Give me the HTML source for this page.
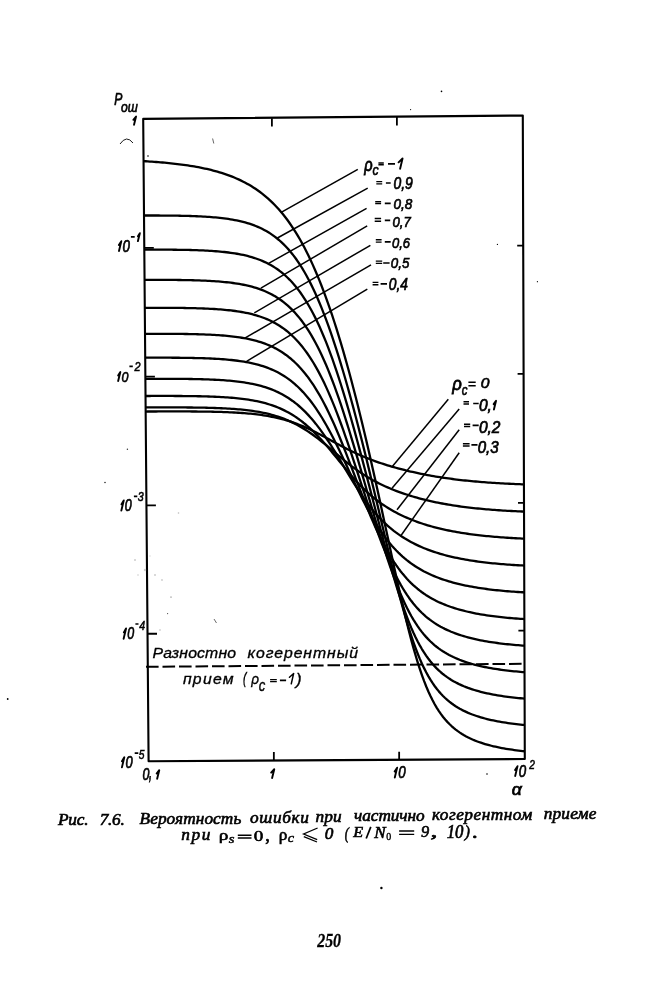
<!DOCTYPE html>
<html><head><meta charset="utf-8"><style>
html,body{margin:0;padding:0;background:#fff;width:657px;height:1000px;overflow:hidden}
svg{position:absolute;left:0;top:0;will-change:transform}
</style></head><body>
<svg width="657" height="1000" viewBox="0 0 657 1000">
<path d="M143.2,118.9 L522.8,115.5 L524.8,759.0 L148.6,761.3 Z" fill="none" stroke="#000" stroke-width="2.1" stroke-linejoin="round"/>
<path d="M144.3,247.85 h9.5 M145.4,376.65 h9.5 M146.4,505.35 h9.5 M147.5,633.75 h9.5 M523.2,245.7 h-6 M523.6,373.9 h-6 M524.0,502.9 h-6 M524.4,630.6 h-6 M271.9,118.3 V126.5 M396.9,116.8 V125.6 M273.85,760.5 V752 M399.15,760 V751.8" fill="none" stroke="#000" stroke-width="1.8"/>
<path d="M120,144 Q126.5,134.5 133,143" fill="none" stroke="#000" stroke-width="0.9"/>
<path d="M212.6,138.5 L213.8,143.5" fill="none" stroke="#555" stroke-width="0.9"/>
<circle cx="148" cy="156" r="0.8" fill="#000"/>
<circle cx="381.4" cy="888" r="1.2" fill="#000"/>
<circle cx="7.7" cy="699" r="0.9" fill="#000"/>
<circle cx="105" cy="482.5" r="0.7" fill="#000"/>
<circle cx="410.6" cy="109.6" r="0.6" fill="#000"/>
<circle cx="441.5" cy="91.4" r="0.8" fill="#000"/>
<circle cx="497.4" cy="244.4" r="0.6" fill="#000"/>
<circle cx="537.4" cy="281.7" r="0.6" fill="#000"/>
<circle cx="487" cy="774" r="0.8" fill="#000"/>
<polyline points="145.66,411.53 147.76,411.52 149.86,411.51 151.96,411.50 154.06,411.49 156.16,411.48 158.26,411.47 160.36,411.46 162.46,411.46 164.56,411.45 166.66,411.45 168.76,411.44 170.86,411.44 172.96,411.44 175.06,411.44 177.17,411.44 179.27,411.44 181.37,411.44 183.47,411.44 185.57,411.45 187.67,411.46 189.77,411.47 191.87,411.48 193.97,411.49 196.07,411.51 198.17,411.53 200.27,411.55 202.37,411.57 204.47,411.60 206.57,411.63 208.67,411.66 210.77,411.70 212.87,411.75 214.98,411.79 217.08,411.84 219.18,411.90 221.28,411.96 223.38,412.03 225.48,412.11 227.58,412.19 229.68,412.28 231.78,412.38 233.88,412.48 235.98,412.60 238.09,412.73 240.19,412.86 242.29,413.01 244.39,413.17 246.49,413.34 248.59,413.53 250.69,413.73 252.80,413.94 254.90,414.17 257.00,414.42 259.10,414.69 261.20,414.98 263.31,415.29 265.41,415.62 267.51,415.97 269.62,416.34 271.72,416.75 273.82,417.17 275.92,417.63 278.03,418.11 280.13,418.63 282.23,419.17 284.34,419.74 286.44,420.35 288.55,420.99 290.65,421.67 292.76,422.37 294.86,423.12 296.97,423.89 299.07,424.70 301.18,425.55 303.28,426.43 305.39,427.34 307.49,428.29 309.60,429.26 311.70,430.26 313.81,431.30 315.92,432.35 318.02,433.43 320.13,434.53 322.23,435.65 324.34,436.78 326.45,437.92 328.55,439.07 330.66,440.22 332.77,441.37 334.87,442.52 336.98,443.66 339.08,444.79 341.19,445.92 343.30,447.03 345.40,448.12 347.51,449.20 349.61,450.25 351.72,451.28 353.82,452.29 355.93,453.28 358.03,454.24 360.13,455.17 362.24,456.09 364.34,456.97 366.45,457.83 368.55,458.67 370.65,459.49 372.76,460.28 374.86,461.05 376.96,461.81 379.06,462.54 381.17,463.25 383.27,463.94 385.37,464.62 387.47,465.28 389.57,465.92 391.68,466.54 393.78,467.15 395.88,467.75 397.98,468.33 400.08,468.89 402.18,469.44 404.29,469.98 406.39,470.50 408.49,471.01 410.59,471.51 412.69,471.99 414.79,472.46 416.89,472.92 418.99,473.37 421.09,473.80 423.19,474.23 425.29,474.64 427.39,475.03 429.49,475.42 431.59,475.80 433.69,476.17 435.79,476.52 437.89,476.87 439.99,477.20 442.09,477.53 444.19,477.84 446.29,478.15 448.39,478.44 450.49,478.73 452.59,479.01 454.69,479.28 456.79,479.54 458.89,479.79 460.99,480.03 463.09,480.27 465.19,480.49 467.29,480.71 469.38,480.93 471.48,481.13 473.58,481.33 475.68,481.52 477.78,481.71 479.88,481.88 481.98,482.05 484.08,482.22 486.18,482.38 488.27,482.53 490.37,482.68 492.47,482.82 494.57,482.96 496.67,483.09 498.77,483.21 500.87,483.33 502.96,483.45 505.06,483.56 507.16,483.67 509.26,483.77 511.36,483.87 513.46,483.96 515.56,484.05 517.65,484.14 519.75,484.22 521.85,484.30 523.95,484.37" fill="none" stroke="#000" stroke-width="2.3" stroke-linejoin="round"/>
<polyline points="145.63,407.46 147.73,407.46 149.83,407.45 151.93,407.44 154.03,407.43 156.13,407.43 158.23,407.42 160.33,407.42 162.43,407.41 164.53,407.41 166.63,407.41 168.73,407.41 170.83,407.41 172.93,407.41 175.03,407.42 177.13,407.42 179.23,407.43 181.33,407.44 183.44,407.45 185.54,407.46 187.64,407.48 189.74,407.49 191.84,407.51 193.94,407.54 196.04,407.56 198.14,407.59 200.24,407.63 202.34,407.66 204.44,407.70 206.54,407.75 208.64,407.80 210.74,407.86 212.85,407.92 214.95,407.99 217.05,408.06 219.15,408.14 221.25,408.23 223.35,408.33 225.45,408.43 227.55,408.55 229.66,408.67 231.76,408.81 233.86,408.95 235.96,409.11 238.06,409.29 240.16,409.47 242.27,409.67 244.37,409.89 246.47,410.13 248.57,410.38 250.67,410.66 252.78,410.95 254.88,411.27 256.98,411.61 259.08,411.97 261.19,412.37 263.29,412.79 265.39,413.24 267.50,413.72 269.60,414.24 271.70,414.79 273.81,415.38 275.91,416.01 278.02,416.68 280.12,417.39 282.23,418.14 284.33,418.94 286.44,419.79 288.54,420.68 290.65,421.63 292.76,422.63 294.86,423.68 296.97,424.78 299.08,425.94 301.19,427.15 303.29,428.41 305.40,429.73 307.51,431.10 309.62,432.52 311.73,433.99 313.84,435.51 315.94,437.08 318.05,438.68 320.16,440.33 322.27,442.01 324.38,443.71 326.49,445.45 328.60,447.20 330.71,448.97 332.82,450.75 334.93,452.54 337.04,454.32 339.15,456.09 341.26,457.86 343.37,459.60 345.48,461.32 347.58,463.01 349.69,464.67 351.80,466.29 353.91,467.87 356.01,469.41 358.12,470.91 360.23,472.36 362.33,473.77 364.44,475.13 366.54,476.44 368.65,477.71 370.75,478.94 372.86,480.13 374.96,481.27 377.07,482.38 379.17,483.44 381.27,484.47 383.38,485.47 385.48,486.44 387.58,487.37 389.69,488.27 391.79,489.14 393.89,489.99 395.99,490.81 398.10,491.60 400.20,492.37 402.30,493.11 404.40,493.83 406.50,494.53 408.60,495.20 410.70,495.86 412.80,496.49 414.90,497.11 417.01,497.70 419.11,498.28 421.21,498.83 423.31,499.37 425.41,499.89 427.51,500.40 429.61,500.89 431.71,501.36 433.81,501.82 435.91,502.26 438.00,502.68 440.10,503.10 442.20,503.50 444.30,503.88 446.40,504.25 448.50,504.61 450.60,504.96 452.70,505.30 454.80,505.62 456.90,505.93 459.00,506.24 461.09,506.53 463.19,506.81 465.29,507.08 467.39,507.34 469.49,507.59 471.59,507.83 473.68,508.07 475.78,508.29 477.88,508.51 479.98,508.71 482.08,508.91 484.18,509.11 486.27,509.29 488.37,509.47 490.47,509.64 492.57,509.80 494.67,509.96 496.76,510.11 498.86,510.26 500.96,510.40 503.06,510.53 505.16,510.66 507.25,510.78 509.35,510.90 511.45,511.01 513.55,511.12 515.64,511.22 517.74,511.32 519.84,511.41 521.94,511.50 524.03,511.58" fill="none" stroke="#000" stroke-width="2.3" stroke-linejoin="round"/>
<polyline points="145.53,395.99 147.63,395.98 149.73,395.98 151.83,395.97 153.93,395.97 156.03,395.96 158.13,395.96 160.24,395.96 162.34,395.95 164.44,395.95 166.54,395.96 168.64,395.96 170.74,395.96 172.84,395.97 174.94,395.98 177.04,395.99 179.14,396.00 181.24,396.01 183.35,396.03 185.45,396.05 187.55,396.07 189.65,396.09 191.75,396.12 193.85,396.15 195.95,396.19 198.05,396.23 200.15,396.27 202.26,396.32 204.36,396.37 206.46,396.43 208.56,396.50 210.66,396.57 212.76,396.64 214.86,396.73 216.96,396.82 219.07,396.92 221.17,397.03 223.27,397.15 225.37,397.29 227.47,397.43 229.58,397.58 231.68,397.75 233.78,397.93 235.88,398.13 237.98,398.34 240.09,398.57 242.19,398.82 244.29,399.09 246.39,399.38 248.50,399.70 250.60,400.04 252.70,400.40 254.81,400.79 256.91,401.21 259.01,401.67 261.12,402.15 263.22,402.67 265.33,403.23 267.43,403.83 269.54,404.48 271.64,405.16 273.75,405.90 275.85,406.68 277.96,407.52 280.06,408.41 282.17,409.36 284.28,410.37 286.39,411.44 288.49,412.57 290.60,413.78 292.71,415.05 294.82,416.40 296.93,417.82 299.04,419.31 301.15,420.88 303.26,422.53 305.37,424.26 307.48,426.06 309.59,427.95 311.70,429.91 313.81,431.95 315.93,434.06 318.04,436.25 320.15,438.50 322.27,440.82 324.38,443.19 326.49,445.62 328.61,448.10 330.72,450.61 332.83,453.16 334.95,455.74 337.06,458.33 339.18,460.94 341.29,463.53 343.40,466.12 345.52,468.69 347.63,471.23 349.74,473.73 351.85,476.19 353.97,478.59 356.08,480.94 358.19,483.22 360.30,485.43 362.41,487.57 364.52,489.63 366.63,491.63 368.73,493.54 370.84,495.39 372.95,497.16 375.06,498.86 377.16,500.50 379.27,502.06 381.37,503.57 383.48,505.02 385.58,506.40 387.69,507.74 389.79,509.02 391.89,510.25 394.00,511.43 396.10,512.57 398.20,513.67 400.31,514.72 402.41,515.73 404.51,516.70 406.61,517.64 408.71,518.54 410.81,519.41 412.92,520.24 415.02,521.05 417.12,521.82 419.22,522.57 421.32,523.28 423.42,523.97 425.52,524.64 427.62,525.28 429.72,525.89 431.82,526.49 433.92,527.06 436.02,527.61 438.11,528.13 440.21,528.64 442.31,529.13 444.41,529.61 446.51,530.06 448.61,530.50 450.71,530.92 452.81,531.32 454.90,531.71 457.00,532.08 459.10,532.44 461.20,532.79 463.30,533.12 465.40,533.44 467.49,533.75 469.59,534.04 471.69,534.33 473.79,534.60 475.88,534.86 477.98,535.12 480.08,535.36 482.18,535.59 484.27,535.81 486.37,536.03 488.47,536.23 490.57,536.43 492.66,536.62 494.76,536.80 496.86,536.97 498.96,537.14 501.05,537.30 503.15,537.45 505.25,537.60 507.34,537.73 509.44,537.87 511.54,538.00 513.63,538.12 515.73,538.23 517.83,538.35 519.93,538.45 522.02,538.55 524.12,538.65" fill="none" stroke="#000" stroke-width="2.3" stroke-linejoin="round"/>
<polyline points="145.38,378.83 147.49,378.83 149.59,378.82 151.69,378.82 153.79,378.81 155.89,378.81 157.99,378.81 160.09,378.81 162.20,378.81 164.30,378.81 166.40,378.81 168.50,378.82 170.60,378.83 172.70,378.83 174.80,378.84 176.91,378.86 179.01,378.87 181.11,378.89 183.21,378.91 185.31,378.93 187.41,378.96 189.52,378.99 191.62,379.02 193.72,379.06 195.82,379.10 197.92,379.15 200.02,379.20 202.13,379.26 204.23,379.32 206.33,379.39 208.43,379.46 210.53,379.54 212.63,379.63 214.74,379.73 216.84,379.84 218.94,379.96 221.04,380.08 223.15,380.22 225.25,380.37 227.35,380.54 229.45,380.71 231.56,380.91 233.66,381.12 235.76,381.34 237.86,381.59 239.97,381.85 242.07,382.14 244.17,382.44 246.28,382.78 248.38,383.14 250.49,383.52 252.59,383.94 254.69,384.39 256.80,384.87 258.90,385.39 261.01,385.95 263.11,386.55 265.22,387.19 267.32,387.88 269.43,388.63 271.54,389.42 273.64,390.27 275.75,391.17 277.86,392.14 279.97,393.18 282.07,394.28 284.18,395.46 286.29,396.71 288.40,398.04 290.51,399.45 292.62,400.95 294.73,402.54 296.84,404.22 298.95,406.00 301.07,407.87 303.18,409.85 305.29,411.92 307.41,414.11 309.52,416.39 311.63,418.79 313.75,421.29 315.87,423.90 317.98,426.62 320.10,429.43 322.22,432.36 324.33,435.37 326.45,438.49 328.57,441.67 330.69,444.94 332.81,448.29 334.93,451.69 337.04,455.15 339.16,458.66 341.28,462.19 343.40,465.74 345.52,469.30 347.64,472.84 349.76,476.36 351.87,479.85 353.99,483.29 356.11,486.66 358.22,489.96 360.34,493.18 362.45,496.31 364.57,499.34 366.68,502.27 368.79,505.09 370.91,507.81 373.02,510.42 375.13,512.92 377.24,515.31 379.35,517.60 381.46,519.80 383.56,521.89 385.67,523.89 387.78,525.81 389.88,527.64 391.99,529.38 394.09,531.05 396.20,532.65 398.30,534.17 400.41,535.62 402.51,537.01 404.61,538.34 406.72,539.61 408.82,540.82 410.92,541.98 413.02,543.09 415.12,544.15 417.22,545.16 419.33,546.13 421.43,547.06 423.53,547.95 425.63,548.80 427.73,549.61 429.83,550.39 431.93,551.14 434.03,551.85 436.12,552.53 438.22,553.19 440.32,553.82 442.42,554.42 444.52,554.99 446.62,555.55 448.72,556.07 450.81,556.58 452.91,557.07 455.01,557.53 457.11,557.98 459.21,558.41 461.30,558.82 463.40,559.21 465.50,559.59 467.60,559.95 469.69,560.30 471.79,560.63 473.89,560.95 475.98,561.25 478.08,561.55 480.18,561.83 482.28,562.09 484.37,562.35 486.47,562.60 488.57,562.83 490.66,563.06 492.76,563.27 494.86,563.48 496.95,563.68 499.05,563.87 501.14,564.05 503.24,564.22 505.34,564.39 507.43,564.55 509.53,564.70 511.63,564.84 513.72,564.98 515.82,565.11 517.91,565.24 520.01,565.36 522.11,565.47 524.20,565.58" fill="none" stroke="#000" stroke-width="2.3" stroke-linejoin="round"/>
<polyline points="145.21,357.71 147.31,357.70 149.41,357.70 151.51,357.70 153.62,357.69 155.72,357.69 157.82,357.69 159.92,357.69 162.02,357.69 164.13,357.70 166.23,357.70 168.33,357.71 170.43,357.72 172.53,357.73 174.64,357.74 176.74,357.75 178.84,357.77 180.94,357.79 183.04,357.82 185.15,357.84 187.25,357.87 189.35,357.91 191.45,357.94 193.56,357.98 195.66,358.03 197.76,358.08 199.86,358.14 201.96,358.20 204.07,358.27 206.17,358.35 208.27,358.43 210.38,358.52 212.48,358.62 214.58,358.73 216.68,358.84 218.79,358.97 220.89,359.11 222.99,359.26 225.10,359.43 227.20,359.61 229.30,359.80 231.41,360.01 233.51,360.24 235.61,360.49 237.72,360.75 239.82,361.04 241.92,361.36 244.03,361.69 246.13,362.06 248.24,362.45 250.34,362.87 252.45,363.33 254.55,363.82 256.66,364.35 258.76,364.92 260.87,365.53 262.98,366.19 265.08,366.90 267.19,367.65 269.30,368.47 271.40,369.34 273.51,370.27 275.62,371.27 277.73,372.34 279.84,373.49 281.95,374.71 284.06,376.01 286.17,377.40 288.28,378.87 290.39,380.45 292.50,382.12 294.61,383.89 296.73,385.77 298.84,387.77 300.95,389.88 303.07,392.10 305.18,394.46 307.30,396.93 309.42,399.54 311.53,402.28 313.65,405.15 315.77,408.16 317.89,411.31 320.01,414.59 322.13,418.01 324.25,421.57 326.37,425.25 328.50,429.07 330.62,433.01 332.74,437.06 334.86,441.21 336.99,445.46 339.11,449.80 341.24,454.22 343.36,458.70 345.49,463.23 347.61,467.79 349.73,472.37 351.86,476.94 353.98,481.49 356.10,486.01 358.23,490.46 360.35,494.85 362.47,499.14 364.59,503.33 366.71,507.42 368.83,511.37 370.95,515.20 373.06,518.89 375.18,522.45 377.29,525.86 379.41,529.13 381.52,532.26 383.63,535.26 385.74,538.11 387.85,540.84 389.96,543.43 392.07,545.91 394.18,548.26 396.29,550.50 398.39,552.62 400.50,554.64 402.60,556.56 404.71,558.39 406.81,560.12 408.92,561.76 411.02,563.32 413.12,564.81 415.23,566.21 417.33,567.55 419.43,568.82 421.53,570.03 423.63,571.18 425.73,572.27 427.83,573.31 429.93,574.30 432.03,575.24 434.13,576.14 436.23,576.99 438.33,577.80 440.43,578.58 442.53,579.32 444.63,580.02 446.72,580.70 448.82,581.34 450.92,581.95 453.02,582.53 455.11,583.09 457.21,583.62 459.31,584.13 461.41,584.62 463.50,585.08 465.60,585.53 467.70,585.95 469.79,586.36 471.89,586.74 473.99,587.11 476.08,587.47 478.18,587.80 480.28,588.13 482.37,588.44 484.47,588.73 486.57,589.01 488.66,589.28 490.76,589.54 492.85,589.79 494.95,590.02 497.05,590.25 499.14,590.46 501.24,590.67 503.33,590.86 505.43,591.05 507.52,591.23 509.62,591.40 511.71,591.56 513.81,591.72 515.91,591.86 518.00,592.00 520.10,592.14 522.19,592.27 524.29,592.39" fill="none" stroke="#000" stroke-width="2.3" stroke-linejoin="round"/>
<polyline points="145.01,333.83 147.11,333.82 149.21,333.82 151.31,333.81 153.42,333.81 155.52,333.81 157.62,333.81 159.73,333.81 161.83,333.81 163.93,333.82 166.03,333.82 168.14,333.83 170.24,333.84 172.34,333.85 174.44,333.87 176.55,333.89 178.65,333.91 180.75,333.93 182.86,333.95 184.96,333.98 187.06,334.01 189.17,334.05 191.27,334.09 193.37,334.14 195.47,334.19 197.58,334.24 199.68,334.30 201.78,334.37 203.89,334.44 205.99,334.53 208.09,334.61 210.20,334.71 212.30,334.82 214.40,334.93 216.51,335.06 218.61,335.20 220.71,335.35 222.82,335.51 224.92,335.68 227.03,335.88 229.13,336.08 231.23,336.31 233.34,336.55 235.44,336.82 237.55,337.10 239.65,337.41 241.76,337.74 243.86,338.10 245.97,338.49 248.07,338.91 250.18,339.36 252.29,339.85 254.39,340.38 256.50,340.94 258.60,341.55 260.71,342.21 262.82,342.91 264.93,343.67 267.03,344.48 269.14,345.35 271.25,346.29 273.36,347.29 275.47,348.36 277.58,349.51 279.69,350.74 281.80,352.05 283.91,353.45 286.02,354.95 288.13,356.54 290.25,358.24 292.36,360.05 294.47,361.97 296.59,364.01 298.70,366.17 300.82,368.47 302.94,370.90 305.05,373.46 307.17,376.18 309.29,379.04 311.41,382.05 313.53,385.22 315.65,388.54 317.77,392.03 319.90,395.69 322.02,399.50 324.14,403.49 326.27,407.64 328.40,411.95 330.52,416.42 332.65,421.05 334.78,425.83 336.90,430.76 339.03,435.81 341.16,440.97 343.29,446.25 345.42,451.62 347.55,457.07 349.68,462.59 351.81,468.16 353.94,473.75 356.07,479.34 358.20,484.92 360.33,490.46 362.45,495.95 364.58,501.35 366.71,506.67 368.83,511.87 370.95,516.95 373.08,521.89 375.20,526.68 377.32,531.32 379.44,535.79 381.56,540.10 383.68,544.23 385.79,548.20 387.91,551.99 390.02,555.60 392.14,559.05 394.25,562.33 396.36,565.45 398.47,568.40 400.58,571.20 402.69,573.86 404.80,576.36 406.90,578.73 409.01,580.97 411.11,583.09 413.22,585.08 415.32,586.97 417.43,588.74 419.53,590.42 421.63,592.01 423.73,593.50 425.83,594.92 427.94,596.25 430.04,597.52 432.14,598.71 434.24,599.84 436.34,600.91 438.43,601.93 440.53,602.89 442.63,603.80 444.73,604.66 446.83,605.48 448.93,606.26 451.02,607.00 453.12,607.70 455.22,608.37 457.32,609.01 459.41,609.61 461.51,610.18 463.61,610.73 465.70,611.25 467.80,611.75 469.90,612.22 471.99,612.67 474.09,613.10 476.18,613.51 478.28,613.90 480.37,614.27 482.47,614.62 484.57,614.96 486.66,615.28 488.76,615.59 490.85,615.88 492.95,616.16 495.04,616.43 497.14,616.68 499.23,616.93 501.33,617.16 503.42,617.38 505.52,617.59 507.61,617.79 509.71,617.98 511.80,618.16 513.90,618.34 515.99,618.50 518.09,618.66 520.18,618.81 522.28,618.95 524.37,619.09" fill="none" stroke="#000" stroke-width="2.3" stroke-linejoin="round"/>
<polyline points="144.79,307.83 146.89,307.82 148.99,307.82 151.10,307.82 153.20,307.81 155.31,307.81 157.41,307.81 159.51,307.82 161.62,307.82 163.72,307.83 165.82,307.83 167.93,307.84 170.03,307.85 172.13,307.87 174.24,307.88 176.34,307.90 178.44,307.92 180.55,307.95 182.65,307.97 184.76,308.00 186.86,308.04 188.96,308.08 191.07,308.12 193.17,308.17 195.27,308.22 197.38,308.28 199.48,308.35 201.59,308.42 203.69,308.50 205.79,308.59 207.90,308.68 210.00,308.78 212.11,308.90 214.21,309.02 216.32,309.15 218.42,309.30 220.52,309.46 222.63,309.63 224.73,309.82 226.84,310.02 228.94,310.24 231.05,310.48 233.15,310.74 235.26,311.01 237.36,311.32 239.47,311.64 241.58,312.00 243.68,312.38 245.79,312.79 247.89,313.24 250.00,313.71 252.11,314.23 254.22,314.79 256.32,315.39 258.43,316.03 260.54,316.73 262.65,317.47 264.75,318.28 266.86,319.14 268.97,320.06 271.08,321.06 273.19,322.12 275.30,323.26 277.41,324.48 279.53,325.79 281.64,327.19 283.75,328.68 285.86,330.27 287.98,331.97 290.09,333.78 292.21,335.71 294.32,337.77 296.44,339.95 298.55,342.27 300.67,344.72 302.79,347.33 304.91,350.09 307.03,353.00 309.15,356.08 311.27,359.33 313.40,362.75 315.52,366.35 317.64,370.13 319.77,374.10 321.89,378.25 324.02,382.59 326.15,387.12 328.28,391.85 330.41,396.76 332.54,401.86 334.67,407.14 336.80,412.60 338.93,418.23 341.07,424.02 343.20,429.96 345.33,436.04 347.47,442.20 349.60,448.49 351.74,454.87 353.87,461.32 356.01,467.83 358.14,474.37 360.27,480.92 362.41,487.46 364.54,493.97 366.67,500.43 368.80,506.82 370.93,513.12 373.06,519.32 375.19,525.39 377.32,531.33 379.45,537.11 381.57,542.73 383.70,548.18 385.82,553.44 387.94,558.51 390.06,563.38 392.18,568.05 394.30,572.51 396.42,576.76 398.53,580.79 400.64,584.63 402.76,588.25 404.87,591.68 406.98,594.91 409.09,597.95 411.20,600.82 413.30,603.51 415.41,606.04 417.52,608.41 419.62,610.64 421.73,612.73 423.83,614.70 425.93,616.54 428.03,618.27 430.14,619.89 432.24,621.42 434.34,622.85 436.44,624.20 438.54,625.47 440.64,626.67 442.73,627.80 444.83,628.86 446.93,629.86 449.03,630.81 451.13,631.71 453.22,632.55 455.32,633.35 457.42,634.11 459.51,634.83 461.61,635.51 463.71,636.15 465.80,636.76 467.90,637.34 469.99,637.89 472.09,638.42 474.19,638.91 476.28,639.38 478.38,639.83 480.47,640.26 482.57,640.66 484.66,641.05 486.76,641.42 488.85,641.77 490.95,642.10 493.04,642.41 495.14,642.72 497.23,643.00 499.32,643.27 501.42,643.53 503.51,643.78 505.61,644.02 507.70,644.24 509.80,644.45 511.89,644.66 513.98,644.85 516.08,645.03 518.17,645.21 520.27,645.38 522.36,645.53 524.45,645.68" fill="none" stroke="#000" stroke-width="2.3" stroke-linejoin="round"/>
<polyline points="144.55,279.88 146.66,279.88 148.76,279.88 150.87,279.87 152.97,279.87 155.07,279.87 157.18,279.87 159.28,279.88 161.39,279.88 163.49,279.89 165.60,279.90 167.70,279.91 169.81,279.92 171.91,279.94 174.01,279.95 176.12,279.97 178.22,280.00 180.33,280.02 182.43,280.05 184.54,280.09 186.64,280.13 188.75,280.17 190.85,280.21 192.95,280.27 195.06,280.32 197.16,280.39 199.27,280.46 201.37,280.54 203.48,280.62 205.58,280.71 207.69,280.81 209.79,280.92 211.90,281.04 214.00,281.17 216.11,281.32 218.21,281.47 220.32,281.64 222.43,281.83 224.53,282.03 226.64,282.24 228.74,282.48 230.85,282.73 232.96,283.00 235.06,283.30 237.17,283.62 239.27,283.97 241.38,284.35 243.49,284.75 245.60,285.19 247.70,285.67 249.81,286.18 251.92,286.73 254.03,287.32 256.14,287.96 258.24,288.65 260.35,289.39 262.46,290.18 264.57,291.04 266.68,291.95 268.79,292.94 270.90,294.00 273.01,295.13 275.13,296.35 277.24,297.65 279.35,299.04 281.46,300.53 283.58,302.13 285.69,303.83 287.81,305.64 289.92,307.58 292.04,309.64 294.16,311.84 296.28,314.17 298.39,316.65 300.51,319.28 302.63,322.07 304.76,325.03 306.88,328.15 309.00,331.46 311.12,334.94 313.25,338.61 315.38,342.48 317.50,346.54 319.63,350.80 321.76,355.27 323.89,359.95 326.02,364.83 328.15,369.93 330.28,375.23 332.42,380.73 334.55,386.44 336.68,392.35 338.82,398.45 340.96,404.74 343.09,411.20 345.23,417.82 347.37,424.60 349.51,431.51 351.65,438.55 353.78,445.64 355.92,452.85 358.06,460.14 360.20,467.49 362.34,474.87 364.48,482.28 366.62,489.70 368.75,497.09 370.89,504.46 373.02,511.77 375.16,519.02 377.29,526.18 379.43,533.23 381.56,540.16 383.69,546.95 385.82,553.58 387.95,560.03 390.08,566.29 392.20,572.34 394.33,578.16 396.45,583.76 398.57,589.11 400.69,594.22 402.81,599.07 404.93,603.67 407.04,608.02 409.16,612.11 411.27,615.97 413.38,619.58 415.49,622.97 417.60,626.15 419.71,629.11 421.81,631.88 423.92,634.47 426.02,636.88 428.13,639.13 430.23,641.23 432.33,643.19 434.43,645.02 436.53,646.74 438.63,648.34 440.73,649.83 442.83,651.24 444.93,652.55 447.03,653.78 449.13,654.94 451.23,656.03 453.32,657.05 455.42,658.01 457.52,658.92 459.61,659.77 461.71,660.57 463.81,661.33 465.90,662.05 468.00,662.73 470.09,663.37 472.19,663.98 474.28,664.55 476.38,665.09 478.47,665.61 480.57,666.10 482.66,666.56 484.76,667.00 486.85,667.42 488.95,667.81 491.04,668.19 493.13,668.55 495.23,668.88 497.32,669.21 499.42,669.51 501.51,669.80 503.60,670.08 505.70,670.34 507.79,670.59 509.88,670.83 511.98,671.05 514.07,671.27 516.16,671.47 518.26,671.67 520.35,671.85 522.44,672.03 524.54,672.19" fill="none" stroke="#000" stroke-width="2.3" stroke-linejoin="round"/>
<polyline points="144.30,249.63 146.40,249.63 148.51,249.63 150.61,249.63 152.72,249.63 154.82,249.63 156.93,249.63 159.04,249.63 161.14,249.64 163.25,249.65 165.35,249.66 167.46,249.67 169.56,249.69 171.67,249.70 173.77,249.73 175.88,249.75 177.98,249.78 180.09,249.81 182.19,249.84 184.30,249.88 186.40,249.92 188.51,249.97 190.62,250.02 192.72,250.08 194.83,250.14 196.93,250.21 199.04,250.29 201.14,250.37 203.25,250.47 205.36,250.57 207.46,250.68 209.57,250.80 211.67,250.93 213.78,251.08 215.89,251.23 217.99,251.40 220.10,251.59 222.21,251.79 224.31,252.01 226.42,252.24 228.53,252.50 230.63,252.78 232.74,253.08 234.85,253.40 236.96,253.75 239.06,254.13 241.17,254.54 243.28,254.98 245.39,255.46 247.50,255.98 249.61,256.53 251.71,257.13 253.82,257.78 255.93,258.47 258.04,259.22 260.15,260.03 262.26,260.89 264.38,261.83 266.49,262.82 268.60,263.90 270.71,265.05 272.82,266.28 274.94,267.61 277.05,269.02 279.17,270.54 281.28,272.16 283.40,273.89 285.51,275.74 287.63,277.72 289.75,279.82 291.87,282.06 293.98,284.45 296.10,286.98 298.23,289.67 300.35,292.53 302.47,295.55 304.59,298.76 306.72,302.14 308.84,305.72 310.97,309.48 313.10,313.45 315.23,317.63 317.35,322.01 319.49,326.60 321.62,331.41 323.75,336.43 325.88,341.67 328.02,347.13 330.15,352.80 332.29,358.68 334.42,364.77 336.56,371.07 338.70,377.56 340.84,384.25 342.98,391.12 345.12,398.16 347.26,405.36 349.40,412.72 351.54,420.23 353.69,427.86 355.83,435.62 357.97,443.43 360.11,451.35 362.26,459.36 364.40,467.45 366.54,475.59 368.68,483.78 370.82,492.00 372.96,500.23 375.11,508.46 377.25,516.66 379.38,524.83 381.52,532.93 383.66,540.96 385.80,548.87 387.93,556.67 390.07,564.31 392.20,571.78 394.33,579.05 396.46,586.10 398.59,592.91 400.72,599.46 402.84,605.74 404.97,611.74 407.09,617.44 409.21,622.84 411.32,627.93 413.44,632.73 415.56,637.22 417.67,641.43 419.78,645.36 421.89,649.02 424.00,652.43 426.11,655.60 428.21,658.54 430.32,661.27 432.42,663.80 434.53,666.16 436.63,668.34 438.73,670.37 440.83,672.25 442.93,674.01 445.03,675.64 447.13,677.16 449.23,678.58 451.33,679.91 453.42,681.15 455.52,682.31 457.62,683.39 459.71,684.41 461.81,685.36 463.91,686.26 466.00,687.10 468.10,687.90 470.19,688.64 472.29,689.35 474.38,690.01 476.48,690.64 478.57,691.23 480.66,691.79 482.76,692.32 484.85,692.82 486.95,693.29 489.04,693.74 491.13,694.16 493.23,694.56 495.32,694.94 497.41,695.30 499.51,695.65 501.60,695.97 503.69,696.28 505.79,696.57 507.88,696.85 509.97,697.11 512.06,697.36 514.16,697.60 516.25,697.82 518.34,698.04 520.43,698.24 522.53,698.43 524.62,698.62" fill="none" stroke="#000" stroke-width="2.3" stroke-linejoin="round"/>
<polyline points="144.01,215.50 146.12,215.49 148.22,215.49 150.33,215.50 152.44,215.50 154.54,215.50 156.65,215.51 158.76,215.52 160.86,215.53 162.97,215.54 165.07,215.56 167.18,215.57 169.29,215.59 171.39,215.62 173.50,215.64 175.61,215.67 177.71,215.71 179.82,215.75 181.93,215.79 184.03,215.84 186.14,215.89 188.25,215.95 190.35,216.01 192.46,216.08 194.57,216.16 196.67,216.24 198.78,216.34 200.89,216.44 202.99,216.55 205.10,216.67 207.21,216.81 209.31,216.95 211.42,217.11 213.53,217.28 215.64,217.47 217.74,217.67 219.85,217.89 221.96,218.13 224.07,218.39 226.18,218.67 228.28,218.97 230.39,219.30 232.50,219.65 234.61,220.03 236.72,220.45 238.83,220.90 240.94,221.38 243.05,221.90 245.16,222.46 247.27,223.07 249.38,223.72 251.49,224.42 253.60,225.18 255.71,225.99 257.82,226.86 259.93,227.80 262.05,228.81 264.16,229.90 266.27,231.06 268.39,232.31 270.50,233.64 272.62,235.08 274.73,236.61 276.85,238.24 278.97,239.99 281.08,241.86 283.20,243.85 285.32,245.97 287.44,248.23 289.56,250.63 291.68,253.19 293.80,255.89 295.93,258.76 298.05,261.80 300.18,265.01 302.30,268.40 304.43,271.98 306.56,275.74 308.68,279.70 310.81,283.86 312.94,288.21 315.08,292.77 317.21,297.53 319.34,302.50 321.48,307.68 323.61,313.06 325.75,318.65 327.88,324.44 330.02,330.44 332.16,336.63 334.30,343.02 336.44,349.60 338.58,356.37 340.72,363.33 342.86,370.47 345.01,377.78 347.15,385.26 349.29,392.90 351.44,400.71 353.58,408.66 355.73,416.77 357.87,425.01 360.02,433.38 362.16,441.83 364.31,450.39 366.45,459.07 368.60,467.86 370.74,476.73 372.89,485.67 375.03,494.68 377.18,503.73 379.32,512.81 381.47,521.90 383.61,530.98 385.75,540.02 387.89,549.01 390.03,557.91 392.17,566.70 394.31,575.35 396.45,583.84 398.59,592.12 400.72,600.18 402.85,607.98 404.98,615.50 407.11,622.72 409.24,629.61 411.36,636.17 413.49,642.38 415.61,648.23 417.73,653.73 419.84,658.88 421.96,663.68 424.07,668.14 426.18,672.29 428.29,676.13 430.40,679.68 432.51,682.96 434.61,685.99 436.72,688.79 438.82,691.38 440.92,693.77 443.02,695.97 445.13,698.01 447.23,699.90 449.32,701.65 451.42,703.28 453.52,704.79 455.62,706.19 457.72,707.49 459.81,708.71 461.91,709.85 464.00,710.91 466.10,711.90 468.19,712.83 470.29,713.70 472.38,714.52 474.48,715.29 476.57,716.01 478.67,716.69 480.76,717.33 482.85,717.93 484.95,718.50 487.04,719.03 489.13,719.54 491.23,720.02 493.32,720.47 495.41,720.89 497.50,721.30 499.60,721.68 501.69,722.04 503.78,722.38 505.87,722.71 507.97,723.02 510.06,723.31 512.15,723.58 514.24,723.85 516.33,724.10 518.43,724.33 520.52,724.55 522.61,724.77 524.70,724.97" fill="none" stroke="#000" stroke-width="2.3" stroke-linejoin="round"/>
<polyline points="143.56,161.13 145.66,161.26 147.77,161.39 149.88,161.53 151.99,161.67 154.10,161.82 156.21,161.98 158.32,162.14 160.43,162.31 162.54,162.49 164.65,162.68 166.75,162.88 168.86,163.09 170.97,163.31 173.08,163.53 175.19,163.77 177.30,164.02 179.41,164.28 181.52,164.55 183.63,164.83 185.74,165.13 187.85,165.44 189.96,165.77 192.07,166.11 194.18,166.46 196.29,166.84 198.40,167.23 200.51,167.64 202.63,168.06 204.74,168.51 206.85,168.98 208.96,169.47 211.07,169.99 213.18,170.53 215.29,171.09 217.41,171.68 219.52,172.30 221.63,172.95 223.74,173.63 225.85,174.34 227.97,175.08 230.08,175.87 232.19,176.69 234.31,177.54 236.42,178.44 238.53,179.39 240.65,180.38 242.76,181.42 244.88,182.51 246.99,183.65 249.11,184.85 251.22,186.10 253.34,187.42 255.46,188.81 257.57,190.26 259.69,191.78 261.81,193.38 263.93,195.05 266.04,196.81 268.16,198.65 270.28,200.59 272.40,202.61 274.52,204.74 276.64,206.96 278.77,209.30 280.89,211.74 283.01,214.30 285.13,216.99 287.26,219.79 289.38,222.73 291.51,225.80 293.63,229.01 295.76,232.36 297.89,235.86 300.02,239.52 302.15,243.33 304.28,247.30 306.41,251.43 308.54,255.74 310.67,260.21 312.80,264.87 314.94,269.70 317.07,274.71 319.21,279.90 321.34,285.28 323.48,290.84 325.62,296.60 327.76,302.54 329.90,308.67 332.04,314.99 334.18,321.50 336.32,328.20 338.46,335.09 340.60,342.17 342.75,349.43 344.89,356.87 347.03,364.50 349.18,372.31 351.32,380.30 353.47,388.46 355.62,396.80 357.76,405.30 359.91,413.97 362.06,422.79 364.21,431.78 366.35,440.86 368.50,450.07 370.65,459.44 372.80,468.93 374.95,478.55 377.10,488.26 379.25,498.07 381.40,507.95 383.54,517.89 385.69,527.87 387.84,537.86 389.98,547.84 392.13,557.79 394.28,567.67 396.42,577.45 398.56,587.10 400.70,596.59 402.84,605.88 404.98,614.94 407.12,623.72 409.25,632.20 411.38,640.35 413.51,648.13 415.64,655.54 417.77,662.55 419.89,669.15 422.01,675.33 424.13,681.11 426.25,686.48 428.36,691.46 430.47,696.06 432.58,700.31 434.69,704.22 436.80,707.82 438.91,711.12 441.01,714.16 443.11,716.95 445.22,719.51 447.32,721.87 449.42,724.04 451.52,726.04 453.62,727.89 455.71,729.59 457.81,731.17 459.91,732.63 462.00,733.99 464.10,735.25 466.20,736.42 468.29,737.51 470.39,738.53 472.48,739.48 474.57,740.37 476.67,741.20 478.76,741.98 480.85,742.71 482.95,743.40 485.04,744.04 487.13,744.65 489.23,745.22 491.32,745.76 493.41,746.26 495.50,746.74 497.59,747.19 499.69,747.62 501.78,748.02 503.87,748.40 505.96,748.76 508.05,749.10 510.14,749.42 512.24,749.73 514.33,750.02 516.42,750.29 518.51,750.55 520.60,750.79 522.69,751.03 524.78,751.24" fill="none" stroke="#000" stroke-width="2.3" stroke-linejoin="round"/>
<line x1="357.8" y1="169.4" x2="280.7" y2="212.7" stroke="#000" stroke-width="1.5"/>
<line x1="367.7" y1="188.1" x2="277.4" y2="238.0" stroke="#000" stroke-width="1.5"/>
<line x1="366.6" y1="208.3" x2="268.6" y2="263.4" stroke="#000" stroke-width="1.5"/>
<line x1="367.2" y1="225.9" x2="260.9" y2="288.2" stroke="#000" stroke-width="1.5"/>
<line x1="370.4" y1="245.3" x2="254.3" y2="312.9" stroke="#000" stroke-width="1.5"/>
<line x1="371.0" y1="264.9" x2="244.8" y2="338.2" stroke="#000" stroke-width="1.5"/>
<line x1="367.3" y1="289.2" x2="246.6" y2="361.3" stroke="#000" stroke-width="1.5"/>
<line x1="448.3" y1="399.2" x2="391.7" y2="467.2" stroke="#000" stroke-width="1.5"/>
<line x1="459.2" y1="409.0" x2="392.2" y2="487.9" stroke="#000" stroke-width="1.5"/>
<line x1="459.2" y1="429.7" x2="397.0" y2="509.8" stroke="#000" stroke-width="1.5"/>
<line x1="459.2" y1="452.8" x2="400.5" y2="536.2" stroke="#000" stroke-width="1.5"/>
<line x1="146" y1="666.8" x2="524" y2="663.8" stroke="#000" stroke-width="2" stroke-dasharray="12.6 3.9"/>
<text transform="matrix(0.3037 0 0 0.4133 114.20 105.19)" font-family="Liberation Sans" font-style="italic" font-weight="normal" font-size="40" letter-spacing="0.00" stroke="#000" stroke-width="1.8">P</text>
<text transform="matrix(0.3018 0 0 0.3625 121.00 111.64)" font-family="Liberation Sans" font-style="italic" font-weight="normal" font-size="40" letter-spacing="0.00" stroke="#000" stroke-width="1.8">ош</text>
<path d="M133.35,119.78 L136.05,116.55 L134.03,124.75" fill="none" stroke="#000" stroke-width="1.9" stroke-linejoin="round" stroke-linecap="round"/>
<path d="M118.85,244.93 L121.34,241.15 L118.98,251.05" fill="none" stroke="#000" stroke-width="1.9" stroke-linejoin="round" stroke-linecap="round"/>
<text transform="matrix(0.3327 0 0 0.3933 122.45 251.61)" font-family="Liberation Sans" font-style="italic" font-weight="normal" font-size="40" letter-spacing="0.00" stroke="#000" stroke-width="1.8">0</text>
<path d="M137.95,236.32 L139.85,233.15 L137.87,241.15" fill="none" stroke="#000" stroke-width="1.9" stroke-linejoin="round" stroke-linecap="round"/>
<path d="M118.15,375.47 L120.35,371.95 L118.15,381.05" fill="none" stroke="#000" stroke-width="1.9" stroke-linejoin="round" stroke-linecap="round"/>
<text transform="matrix(0.3109 0 0 0.3667 121.45 381.63)" font-family="Liberation Sans" font-style="italic" font-weight="normal" font-size="40" letter-spacing="0.00" stroke="#000" stroke-width="1.8">0</text>
<text transform="matrix(0.2708 0 0 0.3300 134.57 371.07)" font-family="Liberation Sans" font-style="italic" font-weight="normal" font-size="40" letter-spacing="0.00" stroke="#000" stroke-width="1.8">2</text>
<path d="M121.55,504.32 L123.75,500.45 L121.33,510.65" fill="none" stroke="#000" stroke-width="1.9" stroke-linejoin="round" stroke-linecap="round"/>
<text transform="matrix(0.3109 0 0 0.4033 124.85 511.20)" font-family="Liberation Sans" font-style="italic" font-weight="normal" font-size="40" letter-spacing="0.00" stroke="#000" stroke-width="1.8">0</text>
<text transform="matrix(0.2652 0 0 0.3400 137.70 501.36)" font-family="Liberation Sans" font-style="italic" font-weight="normal" font-size="40" letter-spacing="0.00" stroke="#000" stroke-width="1.8">3</text>
<path d="M123.85,632.35 L126.05,628.45 L123.61,638.75" fill="none" stroke="#000" stroke-width="1.9" stroke-linejoin="round" stroke-linecap="round"/>
<text transform="matrix(0.3109 0 0 0.4067 127.15 639.29)" font-family="Liberation Sans" font-style="italic" font-weight="normal" font-size="40" letter-spacing="0.00" stroke="#000" stroke-width="1.8">0</text>
<text transform="matrix(0.2652 0 0 0.3033 139.17 629.50)" font-family="Liberation Sans" font-style="italic" font-weight="normal" font-size="40" letter-spacing="0.00" stroke="#000" stroke-width="1.8">4</text>
<path d="M121.95,761.16 L124.30,757.35 L121.92,767.35" fill="none" stroke="#000" stroke-width="1.9" stroke-linejoin="round" stroke-linecap="round"/>
<text transform="matrix(0.3218 0 0 0.3967 125.40 767.90)" font-family="Liberation Sans" font-style="italic" font-weight="normal" font-size="40" letter-spacing="0.00" stroke="#000" stroke-width="1.8">0</text>
<text transform="matrix(0.2565 0 0 0.3200 138.80 759.28)" font-family="Liberation Sans" font-style="italic" font-weight="normal" font-size="40" letter-spacing="0.00" stroke="#000" stroke-width="1.8">5</text>
<text transform="matrix(0.3091 0 0 0.3900 142.59 779.61)" font-family="Liberation Sans" font-style="italic" font-weight="normal" font-size="40" letter-spacing="0.00" stroke="#000" stroke-width="1.8">0</text>
<text transform="matrix(0.2556 0 0 0.5455 149.06 779.23)" font-family="Liberation Sans" font-style="italic" font-weight="normal" font-size="40" letter-spacing="0.00" stroke="#000" stroke-width="1.8">,</text>
<path d="M156.65,773.51 L159.25,770.15 L157.15,778.75" fill="none" stroke="#000" stroke-width="1.9" stroke-linejoin="round" stroke-linecap="round"/>
<path d="M271.15,772.67 L274.25,769.25 L272.11,778.05" fill="none" stroke="#000" stroke-width="1.9" stroke-linejoin="round" stroke-linecap="round"/>
<path d="M394.65,771.43 L397.14,767.65 L394.78,777.55" fill="none" stroke="#000" stroke-width="1.9" stroke-linejoin="round" stroke-linecap="round"/>
<text transform="matrix(0.3327 0 0 0.3933 398.25 778.11)" font-family="Liberation Sans" font-style="italic" font-weight="normal" font-size="40" letter-spacing="0.00" stroke="#000" stroke-width="1.8">0</text>
<path d="M515.05,769.93 L517.54,766.15 L515.18,776.05" fill="none" stroke="#000" stroke-width="1.9" stroke-linejoin="round" stroke-linecap="round"/>
<text transform="matrix(0.3327 0 0 0.3933 518.65 776.61)" font-family="Liberation Sans" font-style="italic" font-weight="normal" font-size="40" letter-spacing="0.00" stroke="#000" stroke-width="1.8">0</text>
<text transform="matrix(0.2542 0 0 0.3033 529.15 768.70)" font-family="Liberation Sans" font-style="italic" font-weight="normal" font-size="40" letter-spacing="0.00" stroke="#000" stroke-width="1.8">2</text>
<text transform="matrix(0.4400 0 0 0.3958 511.80 794.90)" font-family="Liberation Sans" font-style="italic" font-weight="normal" font-size="40" letter-spacing="0.00" stroke="#000" stroke-width="1.8">α</text>
<text transform="matrix(0.3640 0 0 0.4656 364.23 170.81)" font-family="Liberation Sans" font-style="italic" font-weight="normal" font-size="40" letter-spacing="0.00" stroke="#000" stroke-width="1.8">ρ</text>
<text transform="matrix(0.3048 0 0 0.3583 372.60 175.24)" font-family="Liberation Sans" font-style="italic" font-weight="normal" font-size="40" letter-spacing="0.00" stroke="#000" stroke-width="1.8">c</text>
<path d="M398.55,162.35 L402.55,158.45 L400.11,168.75" fill="none" stroke="#000" stroke-width="1.9" stroke-linejoin="round" stroke-linecap="round"/>
<text transform="matrix(0.3473 0 0 0.3971 393.55 189.22)" font-family="Liberation Sans" font-style="italic" font-weight="normal" font-size="40" letter-spacing="0.00" stroke="#000" stroke-width="1.8">0,9</text>
<text transform="matrix(0.3382 0 0 0.3714 393.56 208.77)" font-family="Liberation Sans" font-style="italic" font-weight="normal" font-size="40" letter-spacing="0.00" stroke="#000" stroke-width="1.8">0,8</text>
<text transform="matrix(0.3281 0 0 0.3657 392.47 227.31)" font-family="Liberation Sans" font-style="italic" font-weight="normal" font-size="40" letter-spacing="0.00" stroke="#000" stroke-width="1.8">0,7</text>
<text transform="matrix(0.3250 0 0 0.3857 391.98 248.19)" font-family="Liberation Sans" font-style="italic" font-weight="normal" font-size="40" letter-spacing="0.00" stroke="#000" stroke-width="1.8">0,6</text>
<text transform="matrix(0.3339 0 0 0.3800 390.87 268.22)" font-family="Liberation Sans" font-style="italic" font-weight="normal" font-size="40" letter-spacing="0.00" stroke="#000" stroke-width="1.8">0,5</text>
<text transform="matrix(0.3444 0 0 0.4000 388.76 290.10)" font-family="Liberation Sans" font-style="italic" font-weight="normal" font-size="40" letter-spacing="0.00" stroke="#000" stroke-width="1.8">0,4</text>
<text transform="matrix(0.4160 0 0 0.4375 452.13 389.76)" font-family="Liberation Sans" font-style="italic" font-weight="normal" font-size="40" letter-spacing="0.00" stroke="#000" stroke-width="1.8">ρ</text>
<text transform="matrix(0.2857 0 0 0.3583 461.70 394.64)" font-family="Liberation Sans" font-style="italic" font-weight="normal" font-size="40" letter-spacing="0.00" stroke="#000" stroke-width="1.8">c</text>
<text transform="matrix(0.3909 0 0 0.3467 480.71 387.95)" font-family="Liberation Sans" font-style="italic" font-weight="normal" font-size="40" letter-spacing="0.00" stroke="#000" stroke-width="1.8">0</text>
<text transform="matrix(0.3862 0 0 0.3914 478.91 411.15)" font-family="Liberation Sans" font-style="italic" font-weight="normal" font-size="40" letter-spacing="0.00" stroke="#000" stroke-width="1.8">0,</text>
<path d="M493.65,404.17 L496.05,400.75 L493.91,409.55" fill="none" stroke="#000" stroke-width="1.9" stroke-linejoin="round" stroke-linecap="round"/>
<text transform="matrix(0.3873 0 0 0.4114 478.91 433.03)" font-family="Liberation Sans" font-style="italic" font-weight="normal" font-size="40" letter-spacing="0.00" stroke="#000" stroke-width="1.8">0,2</text>
<text transform="matrix(0.3764 0 0 0.4086 477.72 453.05)" font-family="Liberation Sans" font-style="italic" font-weight="normal" font-size="40" letter-spacing="0.00" stroke="#000" stroke-width="1.8">0,3</text>
<text transform="matrix(0.3950 0 0 0.3750 152.60 658.40)" font-family="Liberation Sans" font-style="italic" font-weight="normal" font-size="40" letter-spacing="0.36" stroke="#000" stroke-width="0.9">Разностно</text>
<text transform="matrix(0.3950 0 0 0.3750 247.60 658.10)" font-family="Liberation Sans" font-style="italic" font-weight="normal" font-size="40" letter-spacing="2.35" stroke="#000" stroke-width="0.9">когерентный</text>
<text transform="matrix(0.3950 0 0 0.3750 182.90 683.80)" font-family="Liberation Sans" font-style="italic" font-weight="normal" font-size="40" letter-spacing="3.21" stroke="#000" stroke-width="0.9">прием</text>
<text transform="matrix(0.2563 0 0 0.4275 242.94 684.35)" font-family="Liberation Sans" font-style="italic" font-weight="normal" font-size="40" letter-spacing="0.00" stroke="#000" stroke-width="0.9">(</text>
<text transform="matrix(0.3391 0 0 0.3563 251.24 684.49)" font-family="Liberation Sans" font-style="italic" font-weight="normal" font-size="40" letter-spacing="0.00" stroke="#000" stroke-width="0.9">ρ</text>
<text transform="matrix(0.3263 0 0 0.4043 258.87 690.90)" font-family="Liberation Sans" font-style="italic" font-weight="normal" font-size="40" letter-spacing="0.00" stroke="#000" stroke-width="0.9">c</text>
<path d="M289.45,677.26 L293.65,673.45 L291.27,683.85" fill="none" stroke="#000" stroke-width="1.5" stroke-linejoin="round" stroke-linecap="round"/>
<text transform="matrix(0.4188 0 0 0.4025 296.07 684.58)" font-family="Liberation Sans" font-style="italic" font-weight="normal" font-size="40" letter-spacing="0.00" stroke="#000" stroke-width="0.9">)</text>
<text transform="matrix(0.4325 0 0 0.3950 57.93 825.19)" font-family="Liberation Serif" font-style="italic" font-weight="normal" font-size="40" letter-spacing="-0.37" stroke="#000" stroke-width="1.5">Рис.</text>
<text transform="matrix(0.4325 0 0 0.3950 99.67 824.62)" font-family="Liberation Serif" font-style="italic" font-weight="normal" font-size="40" letter-spacing="-0.63" stroke="#000" stroke-width="1.5">7.6.</text>
<text transform="matrix(0.4325 0 0 0.3950 139.50 824.09)" font-family="Liberation Serif" font-style="italic" font-weight="normal" font-size="40" letter-spacing="0.18" stroke="#000" stroke-width="1.5">Вероятность</text>
<text transform="matrix(0.4325 0 0 0.3950 250.00 822.59)" font-family="Liberation Serif" font-style="italic" font-weight="normal" font-size="40" letter-spacing="1.50" stroke="#000" stroke-width="1.5">ошибки</text>
<text transform="matrix(0.4325 0 0 0.3950 315.57 821.70)" font-family="Liberation Serif" font-style="italic" font-weight="normal" font-size="40" letter-spacing="0.25" stroke="#000" stroke-width="1.5">при</text>
<text transform="matrix(0.4325 0 0 0.3950 354.10 821.19)" font-family="Liberation Serif" font-style="italic" font-weight="normal" font-size="40" letter-spacing="-0.21" stroke="#000" stroke-width="1.5">частично</text>
<text transform="matrix(0.4325 0 0 0.3950 431.90 820.14)" font-family="Liberation Serif" font-style="italic" font-weight="normal" font-size="40" letter-spacing="1.14" stroke="#000" stroke-width="1.5">когерентном</text>
<text transform="matrix(0.4325 0 0 0.3950 543.77 818.62)" font-family="Liberation Serif" font-style="italic" font-weight="normal" font-size="40" letter-spacing="0.34" stroke="#000" stroke-width="1.5">приеме</text>
<text transform="matrix(0.4325 0 0 0.3950 181.37 839.50)" font-family="Liberation Serif" font-style="italic" font-weight="normal" font-size="40" letter-spacing="3.60" stroke="#000" stroke-width="1.5">при</text>
<text transform="matrix(0.4824 0 0 0.3800 218.64 840.40)" font-family="Liberation Serif" font-style="normal" font-weight="normal" font-size="40" letter-spacing="0.00" stroke="#000" stroke-width="1.5">ρ</text>
<text transform="matrix(0.3667 0 0 0.3048 228.70 843.00)" font-family="Liberation Serif" font-style="italic" font-weight="normal" font-size="40" letter-spacing="0.00" stroke="#000" stroke-width="1.5">s</text>
<text transform="matrix(0.4778 0 0 0.3750 253.82 840.62)" font-family="Liberation Serif" font-style="normal" font-weight="normal" font-size="40" letter-spacing="0.00" stroke="#000" stroke-width="1.5">0</text>
<text transform="matrix(0.4571 0 0 0.4583 265.24 840.99)" font-family="Liberation Serif" font-style="normal" font-weight="normal" font-size="40" letter-spacing="0.00" stroke="#000" stroke-width="1.5">,</text>
<text transform="matrix(0.4294 0 0 0.3933 278.74 839.67)" font-family="Liberation Serif" font-style="normal" font-weight="normal" font-size="40" letter-spacing="0.00" stroke="#000" stroke-width="1.5">ρ</text>
<text transform="matrix(0.3556 0 0 0.3048 287.80 842.00)" font-family="Liberation Serif" font-style="italic" font-weight="normal" font-size="40" letter-spacing="0.00" stroke="#000" stroke-width="1.5">c</text>
<text transform="matrix(0.4316 0 0 0.4429 324.77 838.66)" font-family="Liberation Serif" font-style="italic" font-weight="normal" font-size="40" letter-spacing="0.00" stroke="#000" stroke-width="1.5">0</text>
<text transform="matrix(0.3067 0 0 0.4079 344.69 838.83)" font-family="Liberation Serif" font-style="italic" font-weight="normal" font-size="40" letter-spacing="0.00" stroke="#000" stroke-width="1.5">(</text>
<text transform="matrix(0.4038 0 0 0.3571 353.20 837.14)" font-family="Liberation Serif" font-style="italic" font-weight="normal" font-size="40" letter-spacing="0.00" stroke="#000" stroke-width="1.5">E</text>
<text transform="matrix(0.4267 0 0 0.3929 374.23 837.61)" font-family="Liberation Serif" font-style="italic" font-weight="normal" font-size="40" letter-spacing="0.00" stroke="#000" stroke-width="1.5">N</text>
<text transform="matrix(0.2500 0 0 0.2464 386.35 840.05)" font-family="Liberation Serif" font-style="normal" font-weight="normal" font-size="40" letter-spacing="0.00" stroke="#000" stroke-width="1.5">0</text>
<text transform="matrix(0.4100 0 0 0.4143 421.00 837.39)" font-family="Liberation Serif" font-style="italic" font-weight="normal" font-size="40" letter-spacing="0.00" stroke="#000" stroke-width="1.5">9</text>
<text transform="matrix(0.6857 0 0 0.4000 430.61 837.10)" font-family="Liberation Serif" font-style="italic" font-weight="normal" font-size="40" letter-spacing="0.00" stroke="#000" stroke-width="1.5">,</text>
<text transform="matrix(0.4205 0 0 0.4643 446.68 838.04)" font-family="Liberation Serif" font-style="italic" font-weight="normal" font-size="40" letter-spacing="0.00" stroke="#000" stroke-width="1.5">10</text>
<text transform="matrix(0.3875 0 0 0.4026 464.66 837.17)" font-family="Liberation Serif" font-style="italic" font-weight="normal" font-size="40" letter-spacing="0.00" stroke="#000" stroke-width="1.5">)</text>
<text transform="matrix(0.5667 0 0 0.4500 472.53 838.05)" font-family="Liberation Serif" font-style="italic" font-weight="normal" font-size="40" letter-spacing="0.00" stroke="#000" stroke-width="1.5">.</text>
<text transform="matrix(0.3984 0 0 0.4692 317.20 947.40)" font-family="Liberation Serif" font-style="italic" font-weight="bold" font-size="40" letter-spacing="0.00" stroke="#000" stroke-width="0.6">250</text>
<path d="M130.9,236.8 H134.7 M129.4,366.4 H132.8 M133.9,496.4 H137.3 M135.4,624 H138.5 M134.7,753.2 H138.3 M388,163.9 H395 M385.9,183 H390.7 M384.8,203.3 H390.7 M384.8,220.4 H390.2 M384.8,241.8 H390.7 M383.2,263 H389.6 M380.6,283.8 H387 M473.2,403.5 H478.7 M472.6,425.4 H478.7 M471.4,444.9 H477.5 M279.9,680.4 H286.1" stroke="#000" stroke-width="1.7" fill="none"/>
<path d="M378.4,163.0 H383.8 M378.4,164.7 H383.8 M376.3,181.6 H382.2 M376.3,183.9 H382.2 M375.2,201.8 H381.1 M375.2,203.6 H381.1 M374.7,218.5 H381.1 M374.7,221.3 H381.1 M375.8,239.7 H381.6 M375.8,242.1 H381.6 M375.8,261.1 H382.2 M375.8,263.4 H382.2 M372.6,282.4 H378.4 M372.6,284.7 H378.4 M468.4,382.3 H475.7 M468.4,385.7 H475.7 M463.5,401.7 H469 M463.5,404.0 H469 M464,424.3 H470.2 M464,426.5 H470.2 M462.9,443.7 H469.6 M462.9,446.0 H469.6 M270.1,679.6 H276.8 M270.1,681.6 H276.8 M237.8,835.3 H251.5 M237.8,838.0 H251.5 M399.1,831.0 H414.2 M399.1,834.4 H414.2" stroke="#000" stroke-width="1.4" fill="none"/>
<path d="M370.8,826.9 L366.2,838.5" stroke="#000" stroke-width="1.7" fill="none"/>
<circle cx="127.4" cy="449.2" r="0.7" fill="#333"/>
<circle cx="171" cy="597" r="0.6" fill="#444"/>
<circle cx="167.6" cy="613.6" r="0.6" fill="#444"/>
<circle cx="178.5" cy="513" r="0.8" fill="#bbb"/>
<circle cx="160" cy="630" r="0.8" fill="#bbb"/>
<circle cx="135" cy="560" r="1.0" fill="#ccc"/>
<circle cx="145" cy="570" r="1.2" fill="#ccc"/>
<circle cx="155" cy="575" r="1.0" fill="#ccc"/>
<circle cx="162" cy="580" r="0.9" fill="#ccc"/>
<circle cx="138" cy="575" r="0.8" fill="#ccc"/>
<circle cx="150" cy="556" r="0.8" fill="#ddd"/>
<path d="M214,619 L216.5,623" stroke="#444" stroke-width="0.8" fill="none"/>
<path d="M317.6,828 L303.6,834 L317.2,839.6 M303.8,836.6 L317,842" stroke="#000" stroke-width="1.3" fill="none"/>
</svg>
</body></html>
